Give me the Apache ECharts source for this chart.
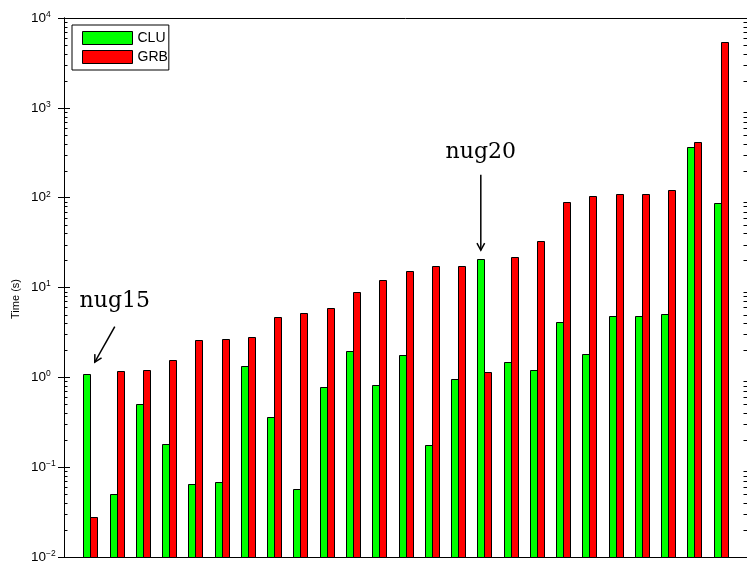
<!DOCTYPE html>
<html>
<head>
<meta charset="utf-8">
<script src="https://cdn.jsdelivr.net/npm/echarts@6/dist/echarts.min.js"></script>
<style>
  html, body { margin: 0; padding: 0; background: #fff; }
  #chart { width: 747px; height: 564px; }
</style>
</head>
<body>
<div id="chart"></div>
<script>
// Solver run times (seconds) per test instance, instances ordered 1..25
const instanceIndex = [1, 2, 3, 4, 5, 6, 7, 8, 9, 10, 11, 12, 13, 14, 15, 16, 17, 18, 19, 20, 21, 22, 23, 24, 25];
const cluTimes = [1.10, 0.0507, 0.507, 0.179, 0.0643, 0.0689, 1.34, 0.360, 0.0576, 0.784,
                  1.94, 0.825, 1.79, 0.176, 0.962, 20.9, 1.49, 1.21, 4.14, 1.84,
                  4.78, 4.78, 5.12, 371, 86.2];
const grbTimes = [0.0281, 1.19, 1.21, 1.57, 2.61, 2.65, 2.79, 4.74, 5.16, 5.87,
                  8.99, 12.0, 15.4, 17.5, 17.2, 1.16, 21.9, 32.9, 88.4, 104,
                  110, 110, 122, 415, 5400];
const seriesNames = ['CLU', 'GRB'];
// Decade exponents labelled on the log axis, and the minor tick multipliers inside each decade
const yTickExponents = [-2, -1, 0, 1, 2, 3, 4];
const minorMultipliers = [2, 3, 4, 5, 6, 7, 8, 9];
// Named instances pointed out with an arrow (index into the arrays above)
const callouts = [
  { text: 'nug15', index: 0 },
  { text: 'nug20', index: 15 }
];

const chart = echarts.init(document.getElementById('chart'));

const yMin = Math.pow(10, yTickExponents[0]);
const yMax = Math.pow(10, yTickExponents[yTickExponents.length - 1]);
const BAR_W = 7;

const minorTickValues = [];
for (let e = yTickExponents[0]; e < yTickExponents[yTickExponents.length - 1]; e++) {
  minorMultipliers.forEach(m => minorTickValues.push([0, m * Math.pow(10, e)]));
}

function supLabel(v) {
  const e = Math.round(Math.log10(v));
  return '{b|10}{s|' + String(e).replace('-', '\u2212') + '}';
}

const yAxisBase = {
  type: 'log',
  logBase: 10,
  min: yMin,
  max: yMax,
  splitNumber: yTickExponents.length - 1,
  axisLine: { show: true, lineStyle: { color: '#000', width: 1 } },
  axisTick: { show: true, inside: true, length: 6, lineStyle: { color: '#000', width: 1 } },
  splitLine: { show: false },
  minorTick: { show: false },
  minorSplitLine: { show: false }
};

const xAxisBase = {
  type: 'value',
  min: 0,
  max: instanceIndex.length + 1,
  axisLine: { show: true, onZero: false, lineStyle: { color: '#000', width: 1 } },
  axisTick: { show: false },
  axisLabel: { show: false },
  splitLine: { show: false }
};

// Bars rise from the bottom of the log axis; offset -1 puts CLU left of the instance, +0 GRB right
function barSeries(name, values, color, side) {
  return {
    name: name,
    type: 'custom',
    itemStyle: { color: color, borderColor: '#000', borderWidth: 1 },
    data: instanceIndex.map((x, i) => [x, values[i]]),
    encode: { x: 0, y: 1 },
    renderItem: function (params, api) {
      const top = api.coord([api.value(0), api.value(1)]);
      const base = api.coord([api.value(0), yMin]);
      const left = Math.round(top[0]) + side * BAR_W;
      return {
        type: 'rect',
        shape: { x: left + 0.5, y: Math.round(top[1]) + 0.5, width: BAR_W, height: Math.round(base[1]) - Math.round(top[1]) },
        style: { fill: color, stroke: '#000', lineWidth: 1 }
      };
    }
  };
}

chart.setOption({
  animation: false,
  backgroundColor: '#fff',
  grid: { left: 64, top: 18, width: 685, height: 540, containLabel: false },
  xAxis: [
    Object.assign({}, xAxisBase, { position: 'bottom' }),
    Object.assign({}, xAxisBase, { position: 'top' })
  ],
  yAxis: [
    Object.assign({}, yAxisBase, {
      position: 'left',
      axisLabel: {
        show: true,
        margin: 33,
        align: 'left',
        formatter: supLabel,
        rich: {
          b: { fontFamily: 'Liberation Sans', fontSize: 13.5, color: '#000', lineHeight: 16 },
          s: { fontFamily: 'Liberation Sans', fontSize: 8.5, color: '#000', lineHeight: 6, verticalAlign: 'top' }
        }
      }
    }),
    Object.assign({}, yAxisBase, { position: 'right', axisLabel: { show: false } })
  ],
  legend: {
    data: seriesNames,
    orient: 'vertical',
    left: 72,
    top: 25,
    icon: 'rect',
    itemWidth: 50,
    itemHeight: 13,
    itemGap: 5,
    padding: [6, 1, 6, 10],
    borderColor: '#000',
    borderWidth: 1,
    backgroundColor: '#fff',
    itemStyle: { borderColor: '#000', borderWidth: 1 },
    textStyle: { fontFamily: 'Liberation Sans', fontSize: 14, color: '#000' }
  },
  series: [
    barSeries(seriesNames[0], cluTimes, '#00ff00', -1),
    barSeries(seriesNames[1], grbTimes, '#ff0000', 0),
    {
      // minor ticks of the log axis, on both the left and right frame edges
      name: 'minorTicks',
      type: 'custom',
      silent: true,
      clip: false,
      z: 5,
      data: minorTickValues,
      renderItem: function (params, api) {
        const cs = params.coordSys;
        const y = Math.round(api.coord([0, api.value(1)])[1]) + 0.5;
        return {
          type: 'group',
          children: [
            { type: 'line', shape: { x1: cs.x, y1: y, x2: cs.x + 3.5, y2: y }, style: { stroke: '#000', lineWidth: 1 } },
            { type: 'line', shape: { x1: cs.x + cs.width - 3.5, y1: y, x2: cs.x + cs.width, y2: y }, style: { stroke: '#000', lineWidth: 1 } }
          ]
        };
      }
    }
  ]
});

// Axis title and the arrow callouts, anchored to the CLU bar tops
function drawOverlay() {
  const graphics = [{
    type: 'text',
    x: 16,
    y: 299,
    rotation: Math.PI / 2,
    style: {
      text: 'Time (s)',
      font: '11px "Liberation Sans"',
      fill: '#000',
      align: 'center',
      verticalAlign: 'middle'
    }
  }];
  const layouts = {
    nug15: { tip: [8, -11.5], tail: [28, -47], label: [28, -61] },
    nug20: { tip: [0, -8.5], tail: [0, -84], label: [0, -95] }
  };
  callouts.forEach(c => {
    const p = chart.convertToPixel({ xAxisIndex: 0, yAxisIndex: 0 },
      [instanceIndex[c.index], cluTimes[c.index]]);
    p[0] -= BAR_W / 2;
    const L = layouts[c.text];
    const tip = [p[0] + L.tip[0], p[1] + L.tip[1]];
    const tail = [p[0] + L.tail[0], p[1] + L.tail[1]];
    const ang = Math.atan2(tip[1] - tail[1], tip[0] - tail[0]);
    const h = 8, spread = 0.5;
    const h1 = [tip[0] - h * Math.cos(ang - spread), tip[1] - h * Math.sin(ang - spread)];
    const h2 = [tip[0] - h * Math.cos(ang + spread), tip[1] - h * Math.sin(ang + spread)];
    graphics.push({
      type: 'line',
      shape: { x1: tail[0], y1: tail[1], x2: tip[0], y2: tip[1] },
      style: { stroke: '#000', lineWidth: 1.5 }
    });
    graphics.push({
      type: 'polyline',
      shape: { points: [h1, tip, h2] },
      style: { stroke: '#000', lineWidth: 1.5, fill: null }
    });
    graphics.push({
      type: 'text',
      x: p[0] + L.label[0],
      y: p[1] + L.label[1],
      style: {
        text: c.text,
        font: '22px "DejaVu Serif"',
        fill: '#000',
        align: 'center',
        verticalAlign: 'bottom'
      }
    });
  });
  chart.setOption({ graphic: graphics });
}
drawOverlay();
</script>
</body>
</html>
